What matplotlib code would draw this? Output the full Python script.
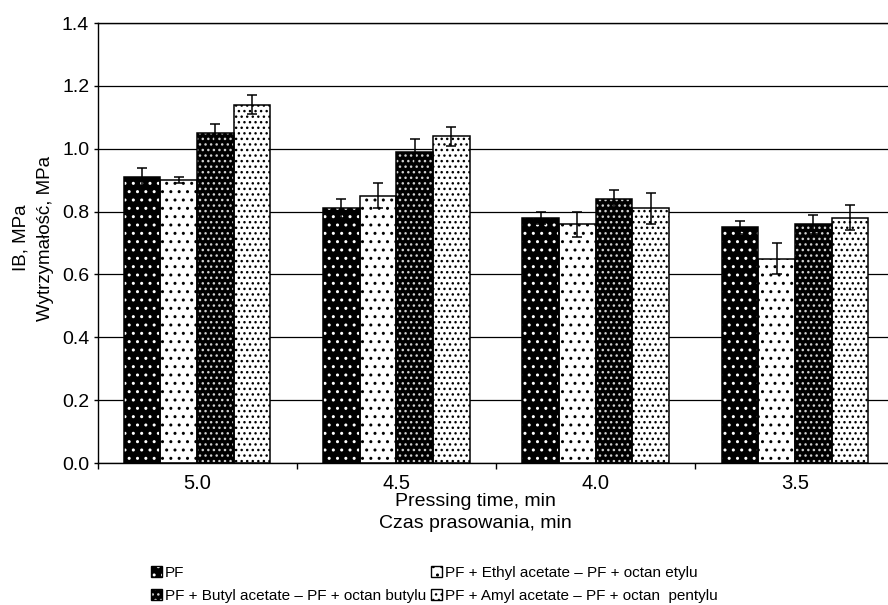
import numpy as np
import matplotlib
matplotlib.use('Agg')
import matplotlib.pyplot as plt
from matplotlib.patches import Patch

plt.rcParams['font.family'] = ['Liberation Sans', 'DejaVu Sans']
plt.rcParams['hatch.linewidth'] = 1.0

# data
times = ['5.0', '4.5', '4.0', '3.5']
series = ['PF',
          'PF + Ethyl acetate \u2013 PF + octan etylu',
          'PF + Butyl acetate \u2013 PF + octan butylu',
          'PF + Amyl acetate \u2013 PF + octan  pentylu']
pf = [0.91, 0.81, 0.78, 0.75]
pf_err = [0.03, 0.03, 0.02, 0.02]
ethyl = [0.90, 0.85, 0.76, 0.65]
ethyl_err = [0.01, 0.04, 0.04, 0.05]
butyl = [1.05, 0.99, 0.84, 0.76]
butyl_err = [0.03, 0.04, 0.03, 0.03]
amyl = [1.14, 1.04, 0.81, 0.78]
amyl_err = [0.03, 0.03, 0.05, 0.04]

values = [pf, ethyl, butyl, amyl]
errors = [pf_err, ethyl_err, butyl_err, amyl_err]
# fill colour, dot colour, hatch
styles = [('black', 'white', '..'),
          ('white', 'black', '..'),
          ('black', '#d0d0d0', '...'),
          ('white', 'black', '...')]

fig = plt.figure(figsize=(8.88, 6.05), dpi=100)
ax = fig.add_axes([97.5 / 888, 1 - 463 / 605, 797 / 888, 440 / 605])

x = np.arange(len(times))
w = 0.184
handles = []
for i, (vals, errs) in enumerate(zip(values, errors)):
    face, dots, hatch = styles[i]
    pos = x + (i - 1.5) * w
    ax.bar(pos, vals, w, color=face, edgecolor=dots, hatch=hatch, linewidth=0, zorder=2)
    ax.bar(pos, vals, w, fill=False, edgecolor='black', linewidth=1.1, zorder=3)
    ax.errorbar(pos, vals, yerr=errs, fmt='none', ecolor='black', elinewidth=1.1,
                capsize=3.9, capthick=1.1, zorder=4)
    handles.append((Patch(facecolor=face, edgecolor=dots, hatch=hatch, linewidth=0),
                    Patch(fill=False, edgecolor='black', linewidth=1.0)))

ax.set_xlim(-0.5, 3.5)
ax.set_ylim(0, 1.4)
ax.set_yticks(np.arange(0, 1.41, 0.2))
ax.set_yticklabels(['%.1f' % v for v in np.arange(0, 1.41, 0.2)])
ax.yaxis.grid(True, color='black', linewidth=0.9, zorder=0)
ax.set_axisbelow(True)

# boundaries get ticks, centres get labels
ax.set_xticks(np.arange(-0.5, 3.6, 1.0))
ax.set_xticklabels([])
ax.set_xticks(x, minor=True)
ax.set_xticklabels(times, minor=True)
ax.tick_params(axis='x', which='major', length=4.5, width=1, direction='out')
ax.tick_params(axis='x', which='minor', length=0, pad=8, labelsize=14.5)
ax.tick_params(axis='y', length=3, width=1, pad=3, labelsize=14)

for s in ['left', 'bottom', 'top']:
    ax.spines[s].set_linewidth(1.0)
ax.spines['right'].set_visible(False)

# two-line y label, each line placed on its own
fig.text(21 / 888, 1 - 238 / 605, 'IB, MPa', rotation=90, ha='center', va='center',
         fontsize=13.5)
fig.text(45 / 888, 1 - 238 / 605, 'Wytrzyma\u0142o\u015b\u0107, MPa', rotation=90,
         ha='center', va='center', fontsize=13.5)

fig.text(475 / 888, 1 - 501 / 605, 'Pressing time, min', ha='center', va='center', fontsize=14)
fig.text(475 / 888, 1 - 523 / 605, 'Czas prasowania, min', ha='center', va='center', fontsize=14)

order = [0, 2, 1, 3]
fig.legend([handles[k] for k in order], [series[k] for k in order], ncol=2,
           loc='upper left', bbox_to_anchor=(151 / 888, 1 - 566 / 605), frameon=False,
           fontsize=11, handlelength=0.7, handleheight=0.7, handletextpad=0.2,
           columnspacing=0.35, labelspacing=0.6, borderaxespad=0, borderpad=0)

fig.savefig('out.png', dpi=100)
